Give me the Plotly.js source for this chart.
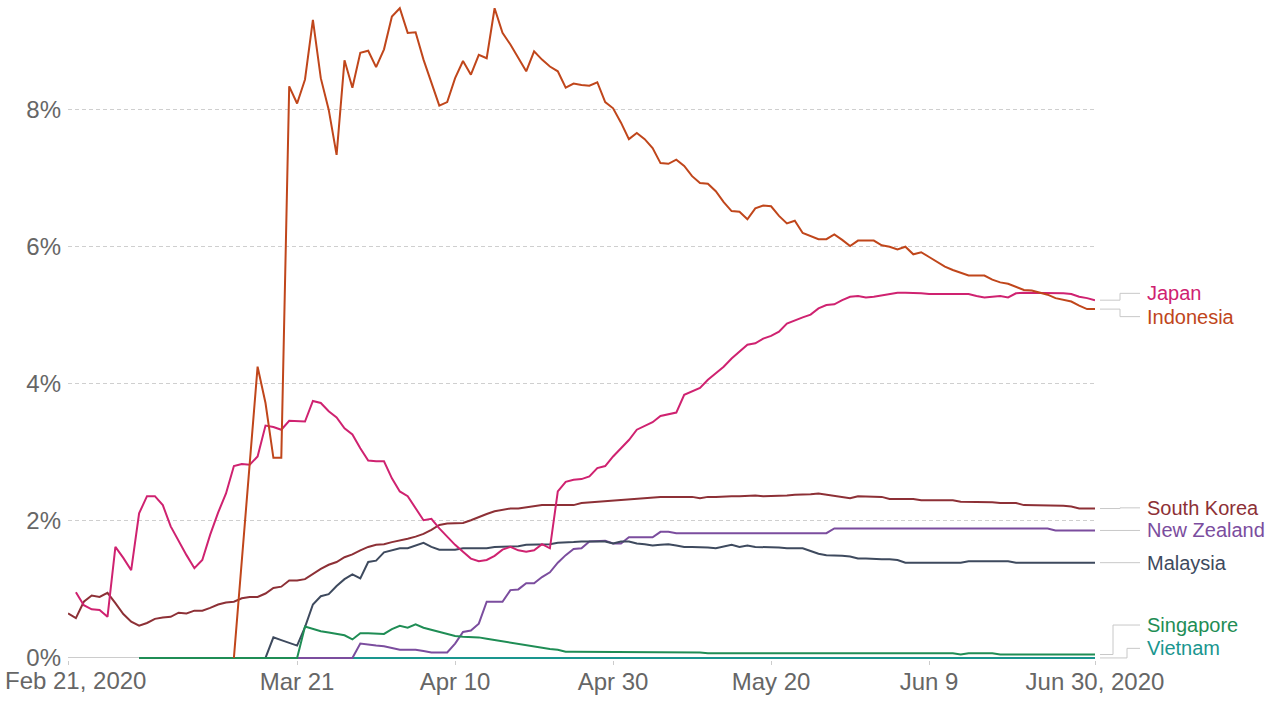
<!DOCTYPE html>
<html>
<head>
<meta charset="utf-8">
<script src="https://cdn.plot.ly/plotly-3.0.1.min.js"></script>
<style>
html,body{margin:0;padding:0;background:#fff;}
#chart{width:1280px;height:702px;}
</style>
</head>
<body>
<div id="chart"></div>
<script>
// ---------- DATA (values in %, one value per day) ----------
const startDate = '2020-02-21';

const southKoreaStart = 0;
const southKorea = [
0.65,0.58,0.82,0.91,0.89,0.95,0.80,0.64,0.53,0.47,
0.51,0.57,0.59,0.60,0.66,0.65,0.69,0.69,0.73,0.78,
0.81,0.82,0.87,0.89,0.89,0.94,1.02,1.04,1.13,1.13,
1.15,1.23,1.30,1.36,1.40,1.47,1.51,1.57,1.62,1.65,
1.66,1.69,1.71,1.74,1.77,1.81,1.87,1.94,1.96,1.97,
1.97,2.01,2.06,2.10,2.14,2.16,2.18,2.18,2.20,2.21,
2.23,2.23,2.23,2.23,2.23,2.26,2.27,2.28,2.29,2.29,
2.30,2.31,2.33,2.33,2.34,2.35,2.35,2.35,2.35,2.35,
2.33,2.35,2.35,2.36,2.36,2.36,2.37,2.37,2.36,2.36,
2.37,2.37,2.38,2.38,2.39,2.40,2.38,2.36,2.35,2.33,
2.36,2.36,2.35,2.35,2.32,2.32,2.32,2.32,2.30,2.30,
2.30,2.30,2.30,2.28,2.28,2.28,2.27,2.27,2.26,2.26,
2.26,2.23,2.23,2.23,2.23,2.23,2.22,2.21,2.18,2.18,
2.18];

const japanStart = 1;
const japan = [
0.96,0.77,0.71,0.70,0.60,1.62,1.46,1.28,2.11,2.36,
2.36,2.23,1.92,1.70,1.50,1.31,1.43,1.80,2.12,2.40,
2.80,2.83,2.82,2.94,3.39,3.37,3.33,3.46,3.46,3.45,
3.75,3.72,3.60,3.51,3.35,3.26,3.06,2.88,2.87,2.87,
2.62,2.43,2.36,2.19,2.01,2.03,1.89,1.77,1.65,1.55,
1.45,1.41,1.43,1.49,1.58,1.62,1.57,1.55,1.57,1.66,
1.60,2.43,2.57,2.60,2.61,2.65,2.77,2.80,2.94,3.06,
3.18,3.33,3.39,3.44,3.53,3.56,3.58,3.84,3.89,3.94,
4.06,4.16,4.25,4.37,4.47,4.57,4.59,4.66,4.70,4.76,
4.88,4.93,4.97,5.01,5.10,5.15,5.16,5.22,5.27,5.28,
5.26,5.27,5.29,5.31,5.33,5.33,5.33,5.32,5.31,5.31,
5.31,5.31,5.31,5.31,5.28,5.26,5.27,5.28,5.26,5.32,
5.33,5.33,5.32,5.33,5.33,5.32,5.31,5.27,5.25,5.22];

const indonesiaStart = 21;
const indonesia = [
0,null,null,4.25,3.72,2.92,2.92,8.34,8.09,8.44,
9.31,8.46,8.00,7.34,8.72,8.32,8.83,8.86,8.62,8.88,
9.36,9.48,9.12,9.13,8.73,8.39,8.06,8.11,8.46,8.71,
8.51,8.80,8.75,9.48,9.12,8.95,8.75,8.56,8.85,8.73,
8.63,8.56,8.32,8.38,8.36,8.35,8.40,8.11,8.02,7.81,
7.57,7.66,7.57,7.44,7.22,7.21,7.27,7.18,7.03,6.93,
6.92,6.81,6.65,6.52,6.51,6.40,6.56,6.60,6.59,6.45,
6.34,6.38,6.20,6.15,6.11,6.11,6.18,6.10,6.01,6.09,
6.09,6.09,6.02,6.00,5.96,6.00,5.89,5.92,5.85,5.78,
5.71,5.66,5.62,5.58,5.58,5.58,5.52,5.48,5.46,5.42,
5.37,5.36,5.33,5.30,5.25,5.23,5.20,5.14,5.09,5.09];

const malaysiaStart = 25;
const malaysia = [
0,0.30,0.26,0.22,0.18,0.45,0.78,0.90,0.93,1.05,
1.15,1.22,1.16,1.40,1.42,1.54,1.57,1.60,1.60,1.64,
1.68,1.62,1.58,1.58,1.58,1.60,1.60,1.61,1.60,1.62,
1.62,1.63,1.63,1.65,1.65,1.66,1.66,1.68,1.68,1.69,
1.70,1.70,1.70,1.70,1.67,1.70,1.70,1.67,1.66,1.64,
1.65,1.66,1.64,1.62,1.62,1.62,1.61,1.60,1.62,1.65,
1.62,1.64,1.62,1.62,1.61,1.61,1.60,1.60,1.60,1.56,
1.52,1.50,1.50,1.49,1.48,1.45,1.45,1.44,1.44,1.44,
1.43,1.39,1.39,1.39,1.39,1.39,1.39,1.39,1.39,1.41,
1.41,1.41,1.41,1.41,1.41,1.39,1.39,1.39,1.39,1.39,
1.39,1.39,1.39,1.39,1.39,1.39];

const newZealandStart = 9;
const newZealand = [
0,0,0,0,0,0,0,0,0,0,
0,0,0,0,0,0,0,0,0,0,
0,0,0,0,0,0,0,0,
0.21,0.19,0.18,0.17,0.14,0.12,0.12,0.12,0.10,0.08,
0.08,0.08,0.21,0.38,0.40,0.50,0.82,0.82,0.82,0.99,
1.00,1.09,1.09,1.18,1.25,1.39,1.50,1.59,1.60,1.70,
1.70,1.71,1.67,1.67,1.76,1.76,1.76,1.76,1.84,1.84,
1.82,1.82,1.82,1.82,1.82,1.82,1.82,1.82,1.82,1.82,
1.82,1.82,1.82,1.82,1.82,1.82,1.82,1.82,1.82,1.82,
1.89,1.89,1.89,1.89,1.89,1.89,1.89,1.89,1.89,1.89,
1.89,1.89,1.89,1.89,1.89,1.89,1.89,1.89,1.89,1.89,
1.89,1.89,1.89,1.89,1.89,1.89,1.89,1.89,
1.86,1.86,1.86,1.86,1.86,1.86];

const singaporeStart = 9;
const singapore = [
0,0,0,0,0,0,0,0,0,0,
0,0,0,0,0,0,0,0,0,0,
0,
0.46,0.42,0.39,0.37,0.35,0.33,0.27,0.36,0.36,0.36,
0.35,0.42,0.47,0.44,0.49,0.44,0.41,0.38,0.35,0.32,
0.31,0.31,0.30,0.28,0.26,0.24,0.22,0.20,0.18,0.16,
0.14,0.13,0.12,0.09,0.09,0.09,0.09,0.09,0.09,0.09,
0.09,0.09,0.09,0.08,0.08,0.08,0.08,0.08,0.08,0.08,
0.08,0.07,0.07,0.07,0.07,0.07,0.07,0.07,0.07,0.07,
0.07,0.07,0.07,0.07,0.07,0.07,0.07,0.07,0.07,0.07,
0.07,0.07,0.07,0.07,0.07,0.07,0.07,0.07,0.07,0.07,
0.07,0.07,0.07,0.05,0.07,0.07,0.07,0.07,0.05,0.05,
0.05,0.05,0.05,0.05,0.05,0.05,0.05,0.05,0.05,0.05,0.05];

const vietnamStart = 9;
const vietnam = [
0,0,0,0,0,0,0,0,0,0,
0,0,0,0,0,0,0,0,0,0,
0,0,0,0,0,0,0,0,0,0,
0,0,0,0,0,0,0,0,0,0,
0,0,0,0,0,0,0,0,0,0,
0,0,0,0,0,0,0,0,0,0,
0,0,0,0,0,0,0,0,0,0,
0,0,0,0,0,0,0,0,0,0,
0,0,0,0,0,0,0,0,0,0,
0,0,0,0,0,0,0,0,0,0,
0,0,0,0,0,0,0,0,0,0,
0,0,0,0,0,0,0,0,0,0,
0,0];

const xTickDates  = ['2020-02-21','2020-03-21','2020-04-10','2020-04-30','2020-05-20','2020-06-09','2020-06-30'];
const xTickLabels = ['Feb 21, 2020','Mar 21','Apr 10','Apr 30','May 20','Jun 9','Jun 30, 2020'];
const yTickVals   = [0,2,4,6,8];
const yTickLabels = ['0%','2%','4%','6%','8%'];

// ---------- STYLE / LAYOUT ----------
const series = [
  {name:'Vietnam',     start:vietnamStart,    values:vietnam,    color:'#1a968f'},
  {name:'New Zealand', start:newZealandStart, values:newZealand, color:'#7b4d9e'},
  {name:'Malaysia',    start:malaysiaStart,   values:malaysia,   color:'#3e4a5e'},
  {name:'Singapore',   start:singaporeStart,  values:singapore,  color:'#1f8d55'},
  {name:'South Korea', start:southKoreaStart, values:southKorea, color:'#8d3036'},
  {name:'Japan',       start:japanStart,      values:japan,      color:'#cf2270'},
  {name:'Indonesia',   start:indonesiaStart,  values:indonesia,  color:'#c0461b'}
];
// label vertical positions (in axis units) and elbow x (pixels)
const labelPlacement = {
  'Japan':       {y:5.32, elbow:1120},
  'Indonesia':   {y:4.98, elbow:1120},
  'South Korea': {y:2.19, elbow:1120},
  'New Zealand': {y:1.86, elbow:1120},
  'Malaysia':    {y:1.39, elbow:1120},
  'Singapore':   {y:0.48, elbow:1113},
  'Vietnam':     {y:0.14, elbow:1127}
};

const ML = 68, MR = 185, MT = 0, MB = 42, W = 1280, H = 702;
const PW = W - ML - MR;
const yRange = [-0.03, 9.6];
const px2px = px => (px - ML) / PW;
const v2py = v => (v - yRange[0]) / (yRange[1] - yRange[0]);
const FONT = 'Liberation Sans, Arial, Helvetica, sans-serif';
const TICKSIZE = 24;

function dayToDate(d){
  const t = new Date(startDate + 'T00:00:00Z');
  t.setUTCDate(t.getUTCDate() + d);
  return t.toISOString().slice(0,10);
}

const traces = series.map(s => ({
  type:'scatter', mode:'lines', name:s.name,
  x: s.values.map((v,i) => dayToDate(s.start + i)),
  y: s.values,
  connectgaps:true,
  line:{color:s.color, width:2},
  hoverinfo:'x+y+name'
}));

const annotations = [];
const shapes = [];
series.forEach(s => {
  let last = null;
  for (let i = s.values.length - 1; i >= 0; i--) { if (s.values[i] !== null) { last = s.values[i]; break; } }
  const lp = labelPlacement[s.name];
  const y0 = v2py(last), y1 = v2py(lp.y);
  shapes.push({
    type:'path', xref:'paper', yref:'paper',
    path:`M ${px2px(1100)},${y0} H ${px2px(lp.elbow)} V ${y1} H ${px2px(1140)}`,
    line:{color:'#c8c8c8', width:1}
  });
  annotations.push({
    xref:'paper', yref:'paper', x:px2px(1145), y:y1,
    xanchor:'left', yanchor:'middle', showarrow:false,
    text:s.name, font:{family:FONT, size:20, color:s.color}
  });
});

// first x tick label drawn left-aligned so it is not cut at the page edge
annotations.push({
  xref:'paper', yref:'paper', x:px2px(3), y:0, xanchor:'left', yanchor:'top',
  yshift:-5, showarrow:false, text:xTickLabels[0],
  font:{family:FONT, size:TICKSIZE, color:'#666666'}
});

const layout = {
  width:W, height:H,
  margin:{l:ML, r:MR, t:MT, b:MB, pad:0},
  paper_bgcolor:'#ffffff', plot_bgcolor:'#ffffff',
  showlegend:false,
  font:{family:FONT, color:'#666666'},
  xaxis:{
    type:'date', range:['2020-02-21','2020-06-30'],
    tickmode:'array', tickvals:xTickDates,
    ticktext:xTickLabels.map((t,i) => i === 0 ? '' : t),
    ticks:'outside', ticklen:4, tickwidth:1, tickcolor:'#cccccc',
    ticklabelstandoff:-4,
    showgrid:false, showline:false, zeroline:false,
    tickfont:{family:FONT, size:TICKSIZE, color:'#666666'},
    fixedrange:true
  },
  yaxis:{
    range:yRange, tickmode:'array', tickvals:yTickVals, ticktext:yTickLabels,
    showgrid:true, gridcolor:'#cfcfcf', gridwidth:1, griddash:'4px,3px',
    zeroline:true, zerolinecolor:'#cccccc', zerolinewidth:1,
    showline:false, ticks:'', ticklabelstandoff:6,
    tickfont:{family:FONT, size:TICKSIZE, color:'#666666'},
    fixedrange:true
  },
  shapes:shapes,
  annotations:annotations
};

Plotly.newPlot('chart', traces, layout, {displayModeBar:false, staticPlot:true});
</script>
</body>
</html>
